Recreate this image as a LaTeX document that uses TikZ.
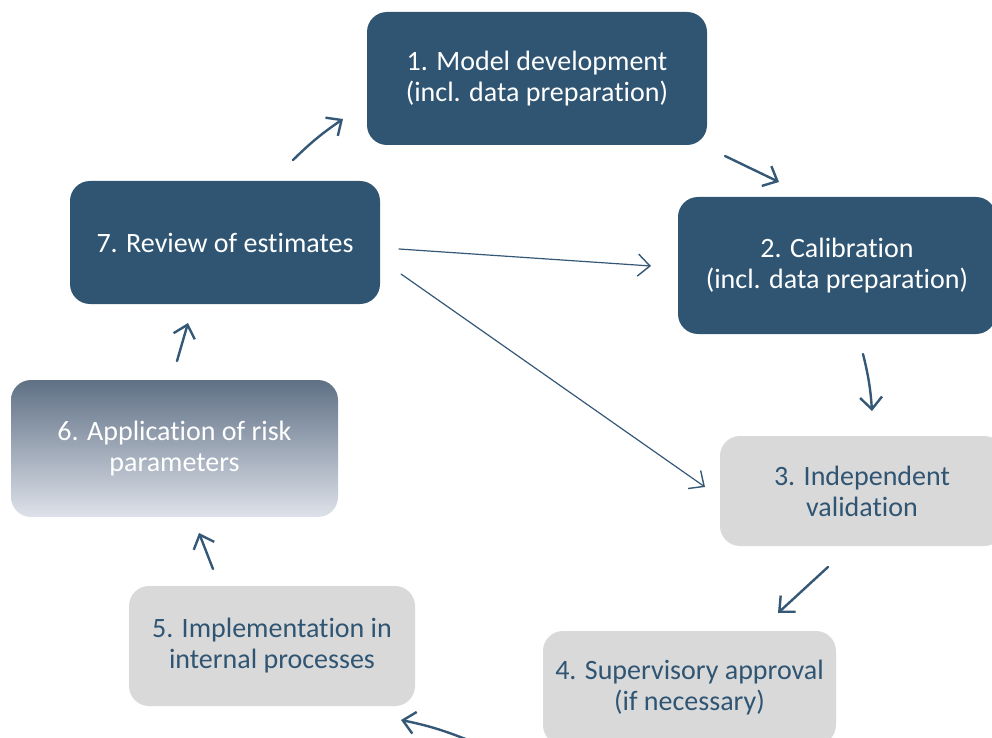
\documentclass[tikz,border=0pt]{standalone}
\usepackage{fontspec}
\setmainfont{Carlito}[Ligatures=NoCommon]
\usetikzlibrary{arrows.meta}
\definecolor{boxblue}{RGB}{47,85,115}
\definecolor{boxgrey}{RGB}{217,217,217}
\definecolor{arrowblue}{RGB}{52,88,118}
\definecolor{shadetop}{RGB}{95,112,133}
\definecolor{shadebot}{RGB}{222,226,234}

\begin{document}
\begin{tikzpicture}[x=0.5pt,y=-0.5pt,
	stage/.style={rounded corners=10pt, align=center, inner sep=0pt,
		font=\fontsize{14}{15.5}\selectfont},
	darkstage/.style={stage, fill=boxblue, text=white},
	greystage/.style={stage, fill=boxgrey, text=boxblue},
	shadestage/.style={stage, top color=shadetop, bottom color=shadebot, text=white},
	flow/.style={draw=arrowblue, line width=1.2pt, line cap=round,
		-{Straight Barb[length=6pt,width=11pt,line width=1.2pt]}},
	thinflow/.style={draw=arrowblue, line width=0.6pt, line cap=round,
		-{Straight Barb[length=6pt,width=11pt,line width=0.7pt]}}]
	\useasboundingbox (0,0) rectangle (992,738);

	% the seven stages
	\node[darkstage, minimum width=170pt, minimum height=66.5pt] (model) at (537,78.5)
		{1. Model development\\(incl. data preparation)};
	\node[darkstage, minimum width=159pt, minimum height=68.5pt] (calib) at (837,265.5)
		{2. Calibration\\(incl. data preparation)};
	\node[greystage, minimum width=142pt, minimum height=55pt] (valid) at (862,491)
		{3. Independent\\validation};
	\node[greystage, minimum width=146.5pt, minimum height=57pt] (approv) at (689.5,688)
		{4. Supervisory approval\\(if necessary)};
	\node[greystage, minimum width=143pt, minimum height=60pt] (implem) at (272,646)
		{5. Implementation in\\internal processes};
	\node[shadestage, minimum width=163.5pt, minimum height=68.5pt] (applic) at (174.5,448.5)
		{6. Application of risk\\parameters};
	\node[darkstage, minimum width=155pt, minimum height=61.5pt] (review) at (225,242.5)
		{7. Review of estimates};

	% arrow ends
	\coordinate (r1) at (293,160);   \coordinate (m1) at (343,119);
	\coordinate (m2) at (725,156);   \coordinate (c2) at (779,182);
	\coordinate (c3) at (863,354);   \coordinate (v3) at (872,411);
	\coordinate (v4) at (828,567);   \coordinate (a4) at (778,613);
	\coordinate (a5) at (468,740);   \coordinate (i5) at (401,720);
	\coordinate (i6) at (213,569);   \coordinate (p6) at (199,533);
	\coordinate (p7) at (177,361);   \coordinate (r7) at (188,323);
	\coordinate (r8) at (399,249);   \coordinate (c8) at (651,266);
	\coordinate (r9) at (401,274);   \coordinate (v9) at (705,487);

	\draw[flow] (r1) to[bend left=5] (m1);
	\draw[flow] (m2) -- (c2);
	\draw[flow] (c3) to[bend left=5] (v3);
	\draw[flow] (v4) -- (a4);
	\draw[flow] (a5) to[bend right=5] (i5);
	\draw[flow] (i6) -- (p6);
	\draw[flow] (p7) -- (r7);
	\draw[thinflow] (r8) -- (c8);
	\draw[thinflow] (r9) -- (v9);
\end{tikzpicture}
\end{document}
